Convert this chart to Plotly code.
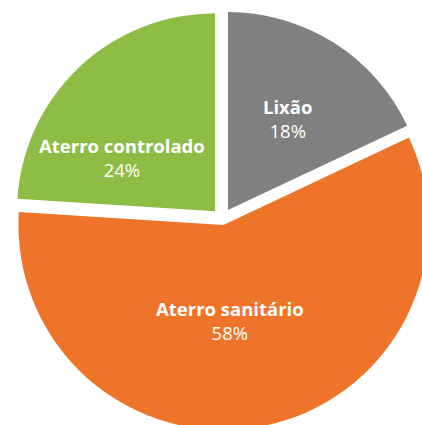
import plotly.graph_objects as go

# Data
labels = ["Lixão", "Aterro sanitário", "Aterro controlado"]
values = [18, 58, 24]
colors = ["#808080", "#EE7429", "#8EBD45"]

# Layout geometry (pixels)
W, H = 440, 440
CX, CY = 222.3, 219.0           # pie centre in page pixels
R_BIG, PULL_BIG = 205, 6.0      # radius / pull of the large slice
R_SMALL, PULL_SMALL = 198, 10.6 # radius / pull of the two smaller slices
# label anchor positions (pixels) for each slice, in order of `labels`
label_px = [(287, 118), (230, 320), (122, 157)]
FONT = "Open Sans"
FS = 18.5

TRANSPARENT = "rgba(0,0,0,0)"
total = sum(values)
big = values.index(max(values))


def domain_for(r, pull_px):
    half = r + pull_px
    return dict(
        x=[(CX - half) / W, (CX + half) / W],
        y=[1 - (CY + half) / H, 1 - (CY - half) / H],
    )


def pie_trace(show_idx, r, pull_px):
    cols = [c if i in show_idx else TRANSPARENT for i, c in enumerate(colors)]
    pulls = [pull_px / r if i in show_idx else 0 for i in range(len(values))]
    return go.Pie(
        labels=labels,
        values=values,
        sort=False,
        direction="clockwise",
        rotation=0,
        pull=pulls,
        marker=dict(colors=cols, line=dict(width=0)),
        textinfo="none",
        domain=domain_for(r, pull_px),
        showlegend=False,
        hoverinfo="label+percent",
    )


fig = go.Figure()
fig.add_trace(pie_trace([big], R_BIG, PULL_BIG))
fig.add_trace(pie_trace([i for i in range(len(values)) if i != big], R_SMALL, PULL_SMALL))

for lab, v, (px, py) in zip(labels, values, label_px):
    fig.add_annotation(
        x=px / W,
        y=1 - py / H,
        xref="paper",
        yref="paper",
        xanchor="center",
        yanchor="middle",
        showarrow=False,
        align="center",
        text=f"<b>{lab}</b><br>{v / total * 100:.0f}%",
        font=dict(family=FONT, size=FS, color="white"),
    )

fig.update_layout(
    width=W,
    height=H,
    margin=dict(l=0, r=0, t=0, b=0),
    paper_bgcolor="white",
    plot_bgcolor="white",
    showlegend=False,
)

fig.write_html(
    "out.html",
    config={"displayModeBar": False},
    post_script="document.body.style.margin='0';document.body.style.overflow='hidden';document.documentElement.style.overflow='hidden';",
)
